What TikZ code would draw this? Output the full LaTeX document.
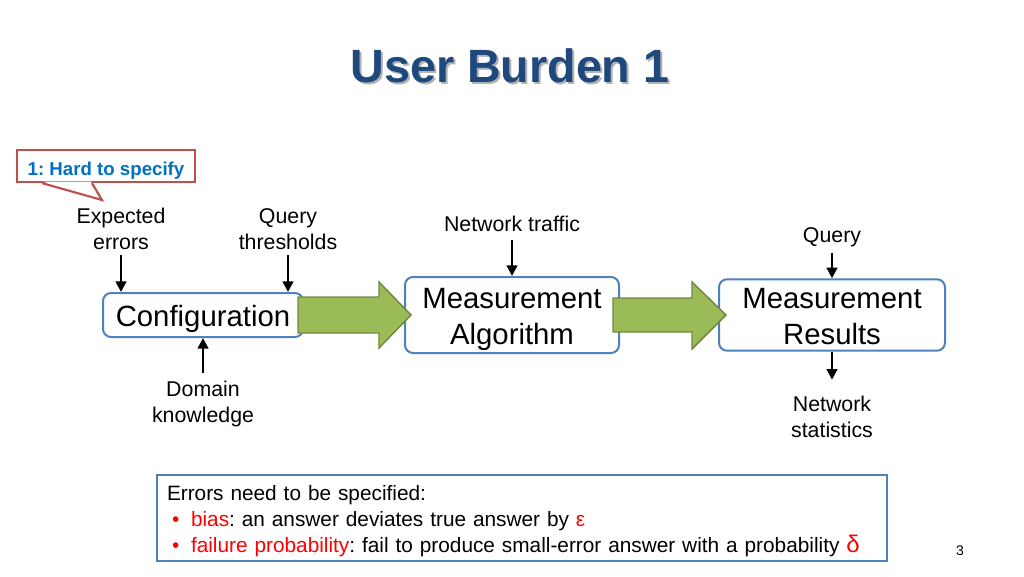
\documentclass[tikz,border=0pt]{standalone}
\usepackage{fontspec}
\setmainfont{Liberation Sans}
\usepackage{tikz}
\usetikzlibrary{arrows.meta,positioning,calc}
\definecolor{boxblue}{RGB}{79,129,189}
\definecolor{arrowgreen}{RGB}{155,187,89}
\definecolor{arrowgreendark}{RGB}{113,137,63}
\definecolor{titleblue}{RGB}{31,73,125}
\definecolor{calloutred}{RGB}{192,80,77}
\definecolor{calloutblue}{RGB}{0,112,192}
\definecolor{errred}{RGB}{255,0,0}
\frenchspacing
\newcommand{\boxstrut}{\rule{0pt}{22pt}}
\newcommand{\redbullet}{\hspace*{3.75pt}\makebox[14.25pt][l]{\textcolor{errred}{\textbullet}}}

\begin{document}
\begin{tikzpicture}[
    x=0.75pt, y=-0.75pt,
    box/.style={rectangle, rounded corners=6pt, draw=boxblue, line width=1.5pt, fill=white, align=center, font=\fontsize{22}{27}\selectfont, inner sep=0pt},
    lbl/.style={align=center, font=\fontsize{16}{19.5}\selectfont, inner sep=1pt},
    inarrow/.style={->, line width=1.8pt},
    blockarrow/.style={fill=arrowgreen, draw=arrowgreendark, line width=1.1pt, line join=miter},
    notebox/.style={rectangle, draw=boxblue, line width=1.5pt, fill=white, align=left, text width=532.5pt, inner xsep=7.5pt, minimum height=64.5pt, font=\fontsize{15.6}{19.5}\selectfont},
    callbox/.style={rectangle, draw=calloutred, line width=1.6pt, fill=white, minimum width=133.5pt, minimum height=24pt, inner sep=1pt, text=calloutblue, font=\fontsize{14}{17}\selectfont\bfseries, execute at begin node={\rule{0pt}{16.5pt}}},
    >={Triangle[length=8pt,width=8pt]}
]
\useasboundingbox[fill=white] (0,0) rectangle (1024,576);

% --- TITLE ---
\node[font=\fontsize{35}{42}\selectfont\bfseries, text=black!30] (titleshadow) at (512,68) {User Burden 1};
\node[font=\fontsize{35}{42}\selectfont\bfseries, text=titleblue] (title) at (510,66) {User Burden 1};

% --- CALLOUT ---
\node[callbox] (hard) at (106,166) {1: Hard to specify};
\coordinate (tip) at (102,200);
\fill[white] ($(hard.south west)+(27,-1.5)$) -- (tip) -- ($(hard.south west)+(75,-1.5)$) -- cycle;
\draw[calloutred, line width=1.6pt, line join=miter] ($(hard.south west)+(26,0)$) -- (tip) -- ($(hard.south west)+(76,0)$);

% --- MAIN BOXES ---
\node[box, minimum width=150pt, minimum height=33pt] (conf) at (203,315) {\boxstrut Configuration};
\node[box, minimum width=160.5pt, minimum height=57pt] (algo) at (512,315) {\boxstrut Measurement\\Algorithm};
\node[box, minimum width=169.5pt, minimum height=52.5pt] (res) at (832,315) {\boxstrut Measurement\\Results\vphantom{g}};

% --- INPUT / OUTPUT LABELS ---
\node[lbl] (experr) at (121,229) {Expected\\errors};
\node[lbl] (qthr) at (288,229) {Query\\thresholds};
\node[lbl, above=32pt of algo] (traffic) {Network traffic};
\node[lbl, above=22pt of res] (query) {Query};
\node[lbl, below=31pt of conf] (domain) {Domain\\knowledge};
\node[lbl, below=32pt of res] (stats) {Network\\statistics};

% Arrows
\draw[inarrow, shorten <=3pt] (experr.south) -- (experr.south |- conf.north);
\draw[inarrow, shorten <=3pt] (qthr.south) -- (qthr.south |- conf.north);
\draw[inarrow, shorten <=5pt] (traffic) -- (algo);
\draw[inarrow, shorten <=3pt] (query) -- (res);
\draw[inarrow, shorten <=5pt] (domain) -- (conf);
\draw[inarrow, shorten >=11pt] (res) -- (stats);

% Block arrows between the boxes
\draw[blockarrow] ($(conf.east)+(-6,-18)$) -- ($(algo.west)+(-25,-18)$) -- ($(algo.west)+(-25,-33)$) -- ($(algo.west)+(7,0)$) -- ($(algo.west)+(-25,33)$) -- ($(algo.west)+(-25,18)$) -- ($(conf.east)+(-6,18)$) -- cycle;
\draw[blockarrow] ($(algo.east)+(-7,-17)$) -- ($(res.west)+(-26,-17)$) -- ($(res.west)+(-26,-33)$) -- ($(res.west)+(8,0)$) -- ($(res.west)+(-26,34)$) -- ($(res.west)+(-26,17)$) -- ($(algo.east)+(-7,17)$) -- cycle;

% --- NOTE ---
\node[notebox] (note) at (522,518) {\rule{0pt}{16pt}Errors need to be specified:\\
\redbullet\textcolor{errred}{bias}: an answer deviates true answer by \textcolor{errred}{ε}\\
\redbullet\textcolor{errred}{failure probability}: fail to produce small-error answer with a probability \textcolor{errred}{\fontsize{18}{19.5}\selectfont δ}};

\node[font=\fontsize{10.5}{12}\selectfont] (pagenum) at (960,551) {3};

\end{tikzpicture}
\end{document}
